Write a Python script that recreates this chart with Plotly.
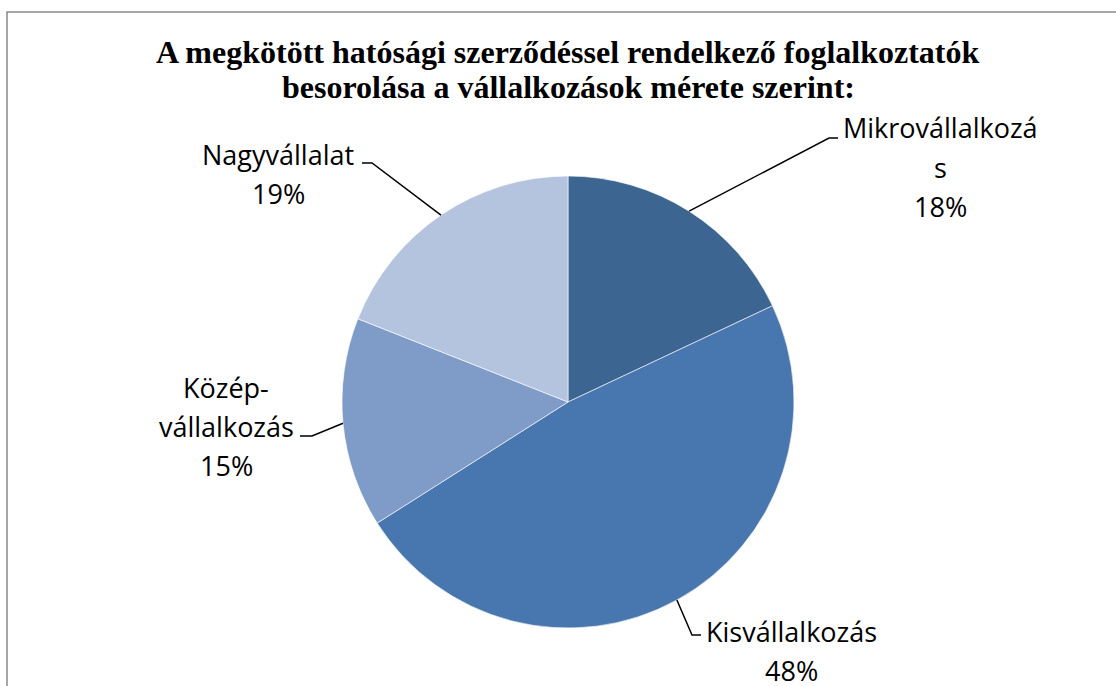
import math
import plotly.graph_objects as go

W, H = 1116, 686

categories = ["Mikrovállalkozás", "Kisvállalkozás", "Közép-vállalkozás", "Nagyvállalat"]
values = [18, 48, 15, 19]
colors = ["#3c6591", "#4876ae", "#7f9bc7", "#b4c3de"]
label_lines = [["Mikrovállalkozá", "s"], ["Kisvállalkozás"], ["Közép-", "vállalkozás"], ["Nagyvállalat"]]
title_lines = ["A megkötött hatósági szerződéssel rendelkező foglalkoztatók",
               "besorolása a vállalkozások mérete szerint:"]

# pie geometry (pixels)
CX, CY, R = 568, 402, 226

def px(x):
    return x / W

def py(y):
    return 1 - y / H

# label block layout: (center x, first line y), elbow point, horizontal end
label_pos = [
    (940, 128),
    (791, 631),
    (226, 387),
    (278, 154),
]
elbows = [
    ((829, 138), (838, 138)),
    ((692, 635), (701, 635)),
    ((312, 436), (300, 436)),
    ((372, 163), (362, 163)),
]
LS = 39.5

fig = go.Figure()
fig.add_trace(go.Pie(
    labels=categories, values=values, sort=False, direction="clockwise", rotation=0,
    marker=dict(colors=colors, line=dict(color="#ffffff", width=0.6)),
    textinfo="none", hoverinfo="label+percent", showlegend=False,
    domain=dict(x=[px(CX - R), px(CX + R)], y=[py(CY + R), py(CY - R)]),
))

annotations = []
shapes = []
total = sum(values)
cum = 0
font_lbl = dict(family="'Open Sans', Lato, sans-serif", size=27, color="#000000")
for i, v in enumerate(values):
    mid = (cum + v / 2) / total * 2 * math.pi
    cum += v
    ex = CX + R * math.sin(mid)
    ey = CY - R * math.cos(mid)
    (bx, by), (hx, hy) = elbows[i]
    shapes.append(dict(type="path", xref="paper", yref="paper",
                       path=f"M {px(ex)} {py(ey)} L {px(bx)} {py(by)} L {px(hx)} {py(hy)}",
                       line=dict(color="#000000", width=1.5)))
    lx, ly = label_pos[i]
    lines = label_lines[i] + [f"{round(v / total * 100)}%"]
    for k, t in enumerate(lines):
        annotations.append(dict(text=t, x=px(lx), y=py(ly + k * LS), xref="paper", yref="paper",
                                showarrow=False, xanchor="center", yanchor="middle", font=font_lbl))

for k, t in enumerate(title_lines):
    annotations.append(dict(text=f"<b>{t}</b>", x=px(568), y=py(52 + k * 35), xref="paper", yref="paper",
                            showarrow=False, xanchor="center", yanchor="middle",
                            font=dict(family="'Liberation Serif', 'Times New Roman', serif", size=32, color="#000000")))

shapes.append(dict(type="path", xref="paper", yref="paper",
                   path=f"M {px(7)} -0.05 L {px(7)} {py(12)} L 1.05 {py(12)}",
                   line=dict(color="#898989", width=1.5)))

fig.update_layout(
    width=W, height=H, margin=dict(l=0, r=0, t=0, b=0),
    paper_bgcolor="#ffffff", plot_bgcolor="#ffffff",
    annotations=annotations, shapes=shapes,
)
fig.write_html("out.html", config={"displayModeBar": False},
               post_script="document.body.style.margin='0';document.body.style.overflow='hidden';")
